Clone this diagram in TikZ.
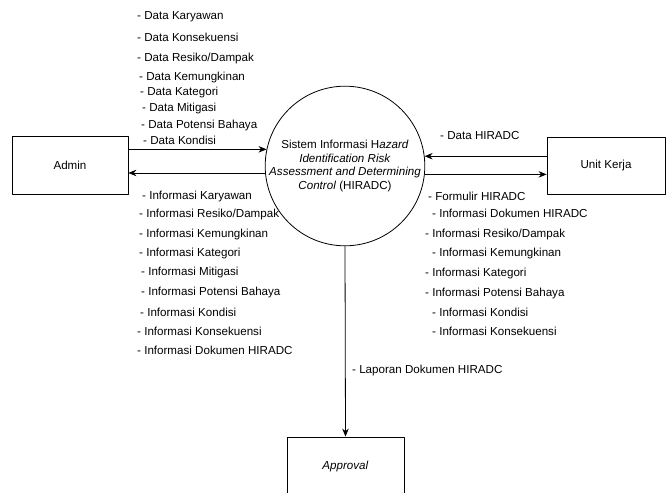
\documentclass[tikz,border=0pt]{standalone}
\usepackage{fontspec}
\setmainfont{Liberation Sans}
\usetikzlibrary{arrows.meta}

\begin{document}
\begin{tikzpicture}[
      % satuan piksel, sumbu y ke bawah
      x=1pt, y=-1pt,
      line join=round,
      font=\fontsize{11.6}{13.4}\selectfont,
      entitas/.style={draw, line width=0.8pt, minimum width=116pt, minimum height=58pt, inner sep=0pt},
      proses/.style={draw, circle, line width=0.8pt, minimum size=154pt, inner sep=0pt, align=center},
      alir/.style={line width=0.8pt, -{Stealth[length=8pt, width=6.5pt]}},
      ket/.style={anchor=base west, inner sep=0pt}
  ]

  \useasboundingbox (0,0) rectangle (670,493);
  \clip (0,0) rectangle (670,493);

  % 1. Entitas dan proses
  \node[entitas] (admin) at (70,165) {Admin};
  \node[entitas, minimum width=118pt, minimum height=57pt] (unit) at (606,165.5) {Unit Kerja};
  \node[entitas, minimum width=117pt] (appr) at (345.5,466) {\textit{Approval}};
  \node[proses] (sys) at (345,166) {Sistem Informasi H\textit{azard}\\
      \textit{Identification Risk}\\
      \textit{Assessment and Determining}\\
      \textit{Control} (HIRADC)};

  % 2. Aliran data
  \draw[alir] (admin.east |- sys.168.8) -- (sys.168.8);
  \draw[alir] (sys.185.2) -- (admin.east |- sys.185.2);
  \draw[alir] (unit.west |- sys.7.5) -- (sys.7.5);
  \draw[alir] (sys.-6.7) -- (unit.west |- sys.-6.7);
  \draw[alir] (sys.south) -- (appr.north);

  % 3. Keterangan Admin -> Sistem
  \foreach \x/\y/\t [count=\i] in {137/15/Data Karyawan, 137/37/Data Konsekuensi,
      137/57/Data Resiko\slash Dampak, 139/76/Data Kemungkinan, 140/91/Data Kategori,
      142/107/Data Mitigasi, 141/124/Data Potensi Bahaya, 143/140/Data Kondisi}
    \node[ket] (da\i) at (\x,\y+4) {- \t};

  % 4. Keterangan Sistem -> Admin
  \foreach \x/\y/\t [count=\i] in {142/195/Informasi Karyawan, 139/213/Informasi Resiko\slash Dampak,
      139/233/Informasi Kemungkinan, 139/252/Informasi Kategori, 141/271/Informasi Mitigasi,
      141/291/Informasi Potensi Bahaya, 140/312/Informasi Kondisi, 137/331/Informasi Konsekuensi,
      137/350/Informasi Dokumen HIRADC}
    \node[ket] (ia\i) at (\x,\y+4) {- \t};

  % 5. Keterangan Unit Kerja
  \node[ket] (du1) at (440,139) {- Data HIRADC};
  \foreach \x/\y/\t [count=\i] in {428/196/Formulir HIRADC, 432/213/Informasi Dokumen HIRADC,
      425/233/Informasi Resiko\slash Dampak, 432/252/Informasi Kemungkinan, 425/272/Informasi Kategori,
      425/292/Informasi Potensi Bahaya, 432/312/Informasi Kondisi, 432/331/Informasi Konsekuensi}
    \node[ket] (iu\i) at (\x,\y+4) {- \t};

  % 6. Keterangan Approval
  \node[ket] (lap) at (352,373) {- Laporan Dokumen HIRADC};

\end{tikzpicture}
\end{document}
